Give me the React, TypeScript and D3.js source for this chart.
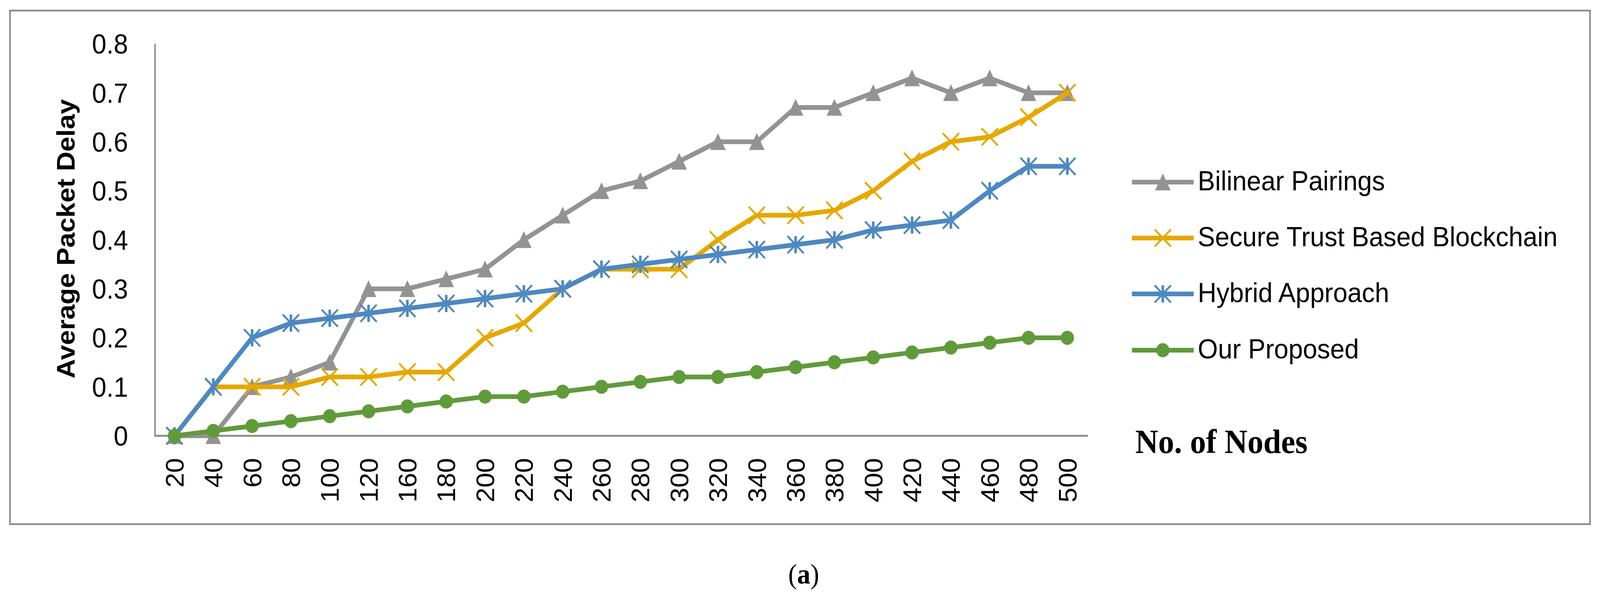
import React from "react";
import * as d3 from "d3";

const categories = ["20","40","60","80","100","120","160","180","200","220","240","260","280","300","320","340","360","380","400","420","440","460","480","500"];
const bilinear = [0,0,0.1,0.12,0.15,0.3,0.3,0.32,0.34,0.4,0.45,0.5,0.52,0.56,0.6,0.6,0.67,0.67,0.7,0.73,0.7,0.73,0.7,0.7];
const secureTrust = [0,0.1,0.1,0.1,0.12,0.12,0.13,0.13,0.2,0.23,0.3,0.34,0.34,0.34,0.4,0.45,0.45,0.46,0.5,0.56,0.6,0.61,0.65,0.7];
const hybrid = [0,0.1,0.2,0.23,0.24,0.25,0.26,0.27,0.28,0.29,0.3,0.34,0.35,0.36,0.37,0.38,0.39,0.4,0.42,0.43,0.44,0.5,0.55,0.55];
const proposed = [0,0.01,0.02,0.03,0.04,0.05,0.06,0.07,0.08,0.08,0.09,0.1,0.11,0.12,0.12,0.13,0.14,0.15,0.16,0.17,0.18,0.19,0.2,0.2];
const yTicks = [0,0.1,0.2,0.3,0.4,0.5,0.6,0.7,0.8];
const yTickLabels = ["0","0.1","0.2","0.3","0.4","0.5","0.6","0.7","0.8"];

const seriesNames = ["Bilinear Pairings","Secure Trust Based Blockchain","Hybrid Approach","Our Proposed"];
const seriesValues = [bilinear, secureTrust, hybrid, proposed];
const seriesColors = ["#939393","#E5A800","#4E88C0","#619A3B"];
const seriesMarkers = ["triangle","x","asterisk","circle"];

const W = 4324, H = 1553;
const axisColor = "#8c8c8c";

function Marker({ type, x, y, color }: { type: string; x: number; y: number; color: string }) {
  const s = 22;
  if (type === "triangle") {
    return <path d={`M${x},${y - s} L${x + 21},${y + 21} L${x - 21},${y + 21} Z`} fill={color} />;
  }
  if (type === "circle") {
    return <circle cx={x} cy={y} r={18} fill={color} />;
  }
  if (type === "x") {
    return (
      <g stroke={color} strokeWidth={5}>
        <line x1={x - s} y1={y - s} x2={x + s} y2={y + s} />
        <line x1={x - s} y1={y + s} x2={x + s} y2={y - s} />
      </g>
    );
  }
  return (
    <g stroke={color} strokeWidth={5}>
      <line x1={x - s} y1={y - s} x2={x + s} y2={y + s} />
      <line x1={x - s} y1={y + s} x2={x + s} y2={y - s} />
      <line x1={x} y1={y - s} x2={x} y2={y + s} strokeWidth={7} />
    </g>
  );
}

export default function App() {
  const x = d3.scalePoint<string>().domain(categories).range([419, 2937]).padding(0.5);
  const y = d3.scaleLinear().domain([0, 0.8]).range([1115, 112]);
  const line = d3
    .line<number>()
    .x((_, i) => x(categories[i]) as number)
    .y((d) => y(d));

  const legendX1 = 3059, legendX2 = 3226, legendTextX = 3237;
  const legendY = [466, 609, 752, 896];

  return (
    <svg
      viewBox={`0 0 ${W} ${H}`}
      preserveAspectRatio="none"
      style={{ position: "absolute", left: 0, top: 0, width: "100vw", height: "100vh", display: "block", background: "#fff" }}
    >
      <rect x={0} y={0} width={W} height={H} fill="#fff" />
      <rect x={27} y={27} width={4270} height={1314} fill="none" stroke={axisColor} strokeWidth={4.5} />

      {/* axes */}
      <line x1={419} y1={y(0.8)} x2={419} y2={y(0) + 2} stroke={axisColor} strokeWidth={4} />
      <line x1={417} y1={y(0)} x2={2940} y2={y(0)} stroke={axisColor} strokeWidth={5} />

      {/* y ticks */}
      {yTicks.map((t, i) => (
        <text key={t} x={346} y={y(t)} dy="0.36em" textAnchor="end" fontFamily="Liberation Sans, Arial, sans-serif" fontSize={70} fill="#000">
          {yTickLabels[i]}
        </text>
      ))}

      {/* x ticks */}
      {categories.map((c) => {
        const cx = x(c) as number;
        return (
          <text key={c} transform={`translate(${cx},1172) rotate(-90)`} dy="0.36em" textAnchor="end" fontFamily="Liberation Sans, Arial, sans-serif" fontSize={68} fill="#000">
            {c}
          </text>
        );
      })}

      {/* y title */}
      <text transform={`translate(202,611) rotate(-90)`} textAnchor="middle" fontFamily="Liberation Sans, Arial, sans-serif" fontWeight="bold" fontSize={69} fill="#000">
        Average Packet Delay
      </text>

      {/* series */}
      {seriesValues.map((vals, si) => (
        <g key={seriesNames[si]}>
          <path d={line(vals) as string} fill="none" stroke={seriesColors[si]} strokeWidth={12} strokeLinejoin="round" strokeLinecap="round" />
          {vals.map((v, i) => (
            <Marker key={i} type={seriesMarkers[si]} x={x(categories[i]) as number} y={y(v)} color={seriesColors[si]} />
          ))}
        </g>
      ))}

      {/* legend */}
      {seriesNames.map((n, si) => (
        <g key={n}>
          <line x1={legendX1} y1={legendY[si]} x2={legendX2} y2={legendY[si]} stroke={seriesColors[si]} strokeWidth={12} />
          <Marker type={seriesMarkers[si]} x={(legendX1 + legendX2) / 2} y={legendY[si]} color={seriesColors[si]} />
          <text x={legendTextX} y={legendY[si] + 21} fontFamily="Liberation Sans, Arial, sans-serif" fontSize={70} fill="#000">
            {n}
          </text>
        </g>
      ))}

      {/* x title */}
      <text x={3068} y={1159} fontFamily="Liberation Serif, Times New Roman, serif" fontWeight="bold" fontSize={86} fill="#000">
        No. of Nodes
      </text>

      {/* caption */}
      <text x={2172} y={1493} textAnchor="middle" fontFamily="Liberation Serif, Times New Roman, serif" fontSize={72} fill="#000">
        (<tspan fontWeight="bold">a</tspan>)
      </text>
    </svg>
  );
}
